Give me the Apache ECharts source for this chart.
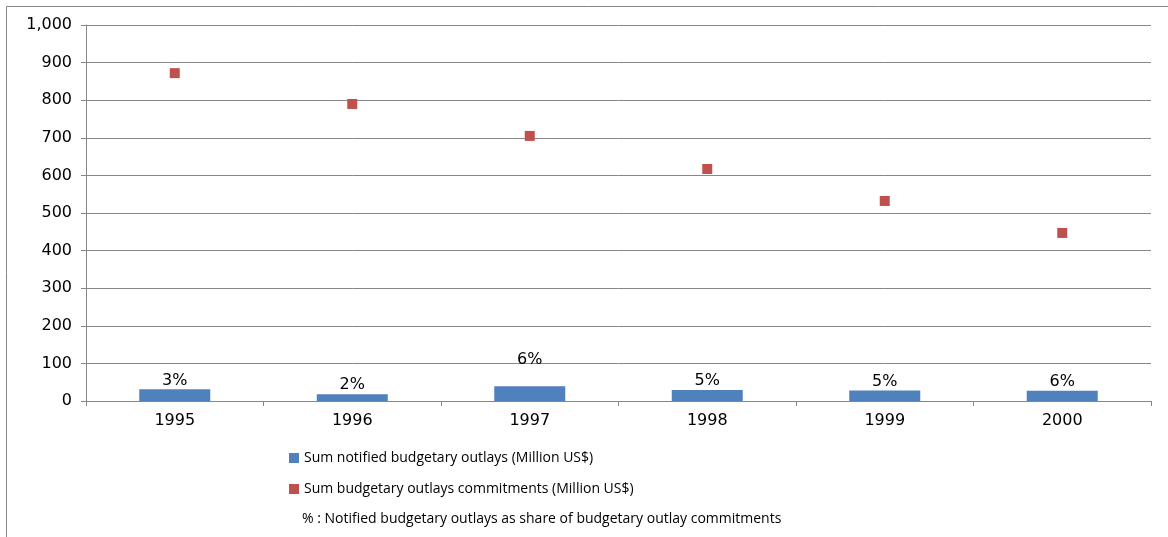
<!DOCTYPE html>
<html>
<head>
<meta charset="utf-8">
<script src="https://cdn.jsdelivr.net/npm/echarts@6/dist/echarts.min.js"></script>
<style>
html,body{margin:0;padding:0;background:#fff;}
#chart{width:1168px;height:537px;}
</style>
</head>
<body>
<div id="chart"></div>
<script>
var years = ['1995', '1996', '1997', '1998', '1999', '2000'];
var notifiedOutlays = [31, 18, 39, 29, 28, 27];
var outlayCommitments = [872, 790, 705, 617, 532, 447];
var shareLabels = ['3%', '2%', '6%', '5%', '5%', '6%'];
var yTicks = [0, 100, 200, 300, 400, 500, 600, 700, 800, 900, 1000];

var barName = 'Sum notified budgetary outlays (Million US$)';
var dotName = 'Sum budgetary outlays commitments (Million US$)';
var noteText = '% : Notified budgetary outlays as share of budgetary outlay commitments';

var chart = echarts.init(document.getElementById('chart'));

var barData = notifiedOutlays.map(function (v, i) {
  var item = { value: v, label: { formatter: shareLabels[i] } };
  if (years[i] === '1997') item.label.offset = [0, -17];
  return item;
});

var gridColor = '#878787';
var tickFont = '"DejaVu Sans"';
var legendFont = 'Open Sans';

chart.setOption({
  animation: false,
  backgroundColor: '#ffffff',
  grid: { left: 86, right: 17, top: 25, bottom: 136 },
  xAxis: {
    type: 'category',
    data: years,
    boundaryGap: true,
    axisLine: { lineStyle: { color: gridColor, width: 1 } },
    axisTick: { show: true, length: 5, inside: false, alignWithLabel: false, lineStyle: { color: gridColor } },
    axisLabel: { color: '#000', fontFamily: tickFont, fontSize: 16, margin: 12 }
  },
  yAxis: {
    type: 'value',
    min: yTicks[0],
    max: yTicks[yTicks.length - 1],
    interval: yTicks[1] - yTicks[0],
    axisLine: { show: true, lineStyle: { color: gridColor, width: 1 } },
    axisTick: { show: true, length: 5, lineStyle: { color: gridColor } },
    splitLine: { show: true, lineStyle: { color: gridColor, width: 1 } },
    axisLabel: {
      color: '#000', fontFamily: tickFont, fontSize: 16, margin: 14,
      formatter: function (v) { return v.toLocaleString('en-US'); }
    }
  },
  legend: {
    orient: 'vertical',
    left: 284,
    top: 446,
    itemWidth: 10,
    itemHeight: 10,
    itemGap: 17,
    textStyle: { color: '#000', fontFamily: legendFont, fontSize: 14 },
    data: [
      { name: barName, icon: 'rect' },
      { name: dotName, icon: 'rect' }
    ]
  },
  graphic: [
    {
      type: 'rect',
      shape: { x: 6.5, y: 6.5, width: 1300, height: 700 },
      style: { fill: 'none', stroke: '#878787', lineWidth: 1 },
      silent: true
    },
    {
      type: 'text',
      left: 302,
      top: 512,
      style: { text: noteText, fill: '#000', font: '14px "Open Sans"' }
    }
  ],
  series: [
    {
      name: barName,
      type: 'bar',
      data: barData,
      barWidth: '40%',
      itemStyle: { color: '#4F81BD', opacity: 1 },
      label: {
        show: true,
        position: 'top',
        distance: 1,
        color: '#000',
        fontFamily: tickFont,
        fontSize: 16
      }
    },
    {
      name: dotName,
      type: 'scatter',
      data: outlayCommitments,
      symbol: 'rect',
      symbolSize: 10,
      itemStyle: { color: '#C0504D', opacity: 1 }
    }
  ]
});
</script>
</body>
</html>
